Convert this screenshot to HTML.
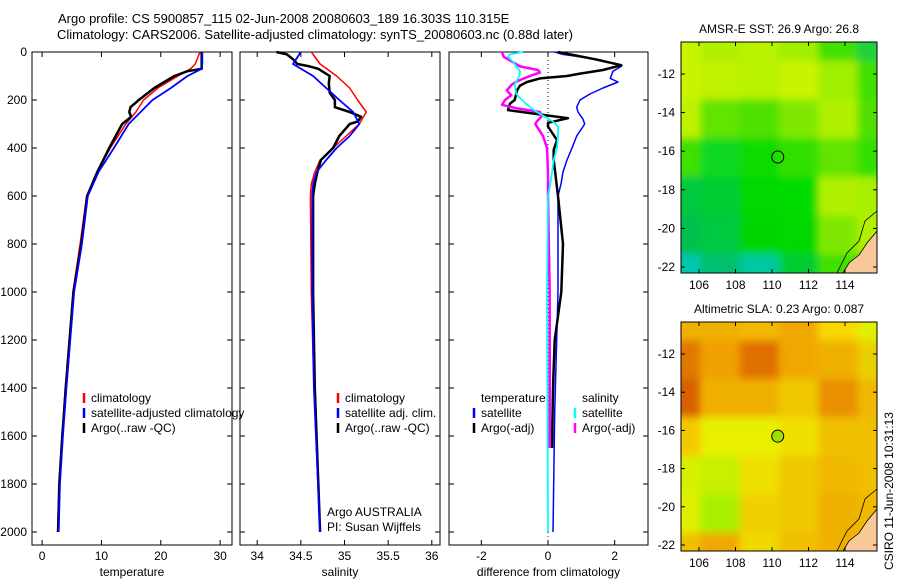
<!DOCTYPE html>
<html><head><meta charset="utf-8"><style>
body{margin:0;background:#fff}
svg{display:block;font-family:"Liberation Sans",sans-serif}
text{font-size:12px;fill:#000}
</style></head><body>
<svg id="fig" width="900" height="580" viewBox="0 0 900 580" xmlns="http://www.w3.org/2000/svg">
<text x="58" y="23" style="font-size:13px">Argo profile: CS 5900857_115 02-Jun-2008 20080603_189 16.303S 110.315E</text>
<text x="57" y="39" style="font-size:13px">Climatology: CARS2006. Satellite-adjusted climatology: synTS_20080603.nc (0.88d later)</text>
<g id="panels"></g>
<g id="maps"></g>
<text transform="translate(893,570) rotate(-90)" style="font-size:12px">CSIRO 11-Jun-2008 10:31:13</text>
</svg>
<script>
// ---- depth profile data ----
const tDepth = [0,50,70,100,150,200,250,300,400,500,600,800,1000,1400,1600,1800,2000];
const tClim  = [26.6,25.8,25.0,22.9,19.5,17.1,15.8,14.1,11.5,9.3,7.5,6.4,5.2,3.9,3.4,2.9,2.6];
const tSat   = [27.0,27.0,26.9,24.5,21.7,18.6,16.6,14.6,12.1,9.5,7.7,6.7,5.4,4.1,3.5,3.0,2.8];
const tArgoD = [0,70,80,100,150,200,230,250,270,300,400,500,600,800,1000,1400,1600,1800,2000];
const tArgo  = [26.9,26.9,24.5,22.3,18.9,16.3,14.9,14.7,15.0,13.5,11.3,9.3,7.6,6.6,5.3,4.0,3.4,2.9,2.7];
const sDepth = [0,50,100,150,200,250,300,350,400,450,500,550,600,1000,1400,2000];
const sClim  = [34.62,34.72,34.91,35.06,35.15,35.25,35.17,35.02,34.87,34.72,34.66,34.62,34.61,34.62,34.65,34.72];
const sSat   = [34.50,34.41,34.64,34.79,34.94,35.10,35.17,35.06,34.91,34.79,34.68,34.64,34.63,34.63,34.65,34.72];
const sArgoD = [0,10,30,50,60,70,100,130,170,200,230,250,270,290,300,350,400,450,500,550,600,1000,1400,2000];
const sArgo  = [34.22,34.34,34.41,34.46,34.60,34.70,34.83,34.82,34.83,34.89,34.89,35.06,35.19,35.15,35.06,34.94,34.87,34.73,34.69,34.66,34.64,34.64,34.66,34.72];
// ---- differences ----
const dtSatD = [0,10,30,50,60,80,110,125,150,175,200,230,250,280,300,350,400,450,500,550,600,1000,1500,2000];
const dtSat  = [0.2,0.45,1.47,2.07,2.2,1.95,1.87,2.1,1.65,1.26,0.96,0.86,0.9,1.05,1.1,0.86,0.72,0.57,0.45,0.39,0.3,0.3,0.2,0.15];
const dtArgoD= [0,30,55,75,90,100,110,125,140,160,200,215,242,276,295,311,367,408,450,505,600,800,1000,1200,1400,1650];
const dtArgo = [0.3,1.4,2.2,1.65,0.96,0.57,-0.24,-0.63,-0.84,-0.93,-1.0,-1.14,-1.2,0.6,0.0,0.0,0.27,0.17,0.17,0.22,0.3,0.45,0.4,0.2,0.15,0.12];
const dsSatD = [0,10,20,40,60,80,100,135,175,200,230,250,270,290,310,350,400,450,500,550,600,1000,2000];
const dsSat  = [-0.75,-1.14,-1.2,-1.05,-0.95,-0.84,-0.86,-1.0,-0.95,-0.78,-0.54,-0.34,-0.09,0.15,0.3,0.3,0.27,0.17,0.12,0.07,0.0,-0.03,0.0];
const dsArgoD= [0,20,40,60,75,85,100,120,135,160,180,200,220,235,250,270,290,300,350,400,500,600,1000,1650];
const dsArgo = [-1.38,-1.33,-1.08,-0.84,-0.3,-0.24,-0.54,-0.9,-1.08,-1.24,-1.1,-1.29,-1.38,-0.93,-0.24,-0.2,-0.34,-0.38,-0.15,-0.03,0.0,0.0,0.05,0.05];

const NS="http://www.w3.org/2000/svg";
const Y0=52, Y1=545, yScale=d=>Y0+d*0.24;
function el(tag,attrs,parent){const e=document.createElementNS(NS,tag);for(const k in attrs)e.setAttribute(k,attrs[k]);parent.appendChild(e);return e;}
const P=document.getElementById('panels');
function txt(x,y,s,parent,anchor,name){const t=el('text',{x:x,y:y,'text-anchor':anchor||'start'},parent);t.textContent=s;


return t;}
function panel(name,x0,x1,vmin,vmax,ticks,tickLabels,xlabel,ylabels){
  const g=el('g',{},P);
  
  
  const xs=v=>x0+(v-vmin)/(vmax-vmin)*(x1-x0);
  const fr=el('rect',{x:x0,y:Y0,width:x1-x0,height:Y1-Y0,fill:'none',stroke:'#000','stroke-width':1},g);
  
  
  ticks.forEach((v,i)=>{const x=xs(v);
    el('line',{x1:x,x2:x,y1:Y1,y2:Y1-5,stroke:'#000'},g);el('line',{x1:x,x2:x,y1:Y0,y2:Y0+5,stroke:'#000'},g);
    txt(x,560,tickLabels[i],g,'middle','x-tick-label');});
  for(let d=0;d<=2000;d+=200){const y=yScale(d);
    el('line',{x1:x0,x2:x0+5,y1:y,y2:y,stroke:'#000'},g);el('line',{x1:x1,x2:x1-5,y1:y,y2:y,stroke:'#000'},g);
    if(ylabels) txt(27,y+4,String(d),g,'end','y-tick-label');}
  txt((x0+x1)/2,576,xlabel,g,'middle','x-axis-title');
  return {g,xs};
}
function series(pn,depths,vals,color,w,name){
  let d='';depths.forEach((dp,i)=>{d+=(i?'L':'M')+pn.xs(vals[i]).toFixed(1)+','+yScale(dp).toFixed(1);});
  const p=el('path',{d:d,fill:'none',stroke:color,'stroke-width':w,'stroke-linejoin':'round'},pn.g);
  
  
}
function legend(g,x,y,color,label){
  el('line',{x1:x,x2:x,y1:y-9,y2:y+1,stroke:color,'stroke-width':2.5},g);
  txt(x+7,y,label,g,'start','legend-entry');
}
const p1=panel('temperature-panel',32,232,-1.7,32,[0,10,20,30],['0','10','20','30'],'temperature',true);
series(p1,tDepth,tClim,'#f00',1.5,'temp-climatology-line');
series(p1,tArgoD,tArgo,'#000',2.5,'temp-argo-line');
series(p1,tDepth,tSat,'#00f',1.8,'temp-satellite-line');
legend(p1.g,84,402,'#f00','climatology');
legend(p1.g,84,417,'#00f','satellite-adjusted climatology');
legend(p1.g,84,432,'#000','Argo(..raw -QC)');

const p2=panel('salinity-panel',240,440,33.803,36.094,[34,34.5,35,35.5,36],['34','34.5','35','35.5','36'],'salinity',false);
series(p2,sDepth,sClim,'#f00',1.5,'sal-climatology-line');
series(p2,sArgoD,sArgo,'#000',2.5,'sal-argo-line');
series(p2,sDepth,sSat,'#00f',1.8,'sal-satellite-line');
legend(p2.g,338,402,'#f00','climatology');
legend(p2.g,338,417,'#00f','satellite adj. clim.');
legend(p2.g,338,432,'#000','Argo(..raw -QC)');
txt(327,516,'Argo AUSTRALIA',p2.g,'start','argo-australia-note');
txt(327,531,'PI: Susan Wijffels',p2.g,'start','pi-note');

const p3=panel('difference-panel',449,648,-2.97,3,[-2,0,2],['-2','0','2'],'difference from climatology',false);
el('line',{x1:p3.xs(0),x2:p3.xs(0),y1:Y0,y2:yScale(2020),stroke:'#000','stroke-dasharray':'1,3'},p3.g);
series(p3,dtSatD,dtSat,'#00f',1.5,'diff-temp-satellite-line');
series(p3,dtArgoD,dtArgo,'#000',2.5,'diff-temp-argo-line');
series(p3,dsArgoD,dsArgo,'#f0f',2.5,'diff-sal-argo-line');
series(p3,dsSatD,dsSat,'#0ff',1.8,'diff-sal-satellite-line');
txt(481,402,'temperature',p3.g,'start','legend-temperature-heading');
txt(582,402,'salinity',p3.g,'start','legend-salinity-heading');
legend(p3.g,474,417,'#00f','satellite');
legend(p3.g,575,417,'#0ff','satellite');
legend(p3.g,474,432,'#000','Argo(-adj)');
legend(p3.g,575,432,'#f0f','Argo(-adj)');

// ---- maps ----
const sstGrid=[
['#c8f400','#b0f000','#b8f200','#a0ee00','#40e000','#20d040'],
['#c8f400','#c0f200','#b8f200','#c8f400','#a0ee00','#40e000'],
['#c0f200','#60e400','#50e000','#80e800','#b0f000','#50e000'],
['#40e000','#10d820','#10dc00','#30e000','#60e400','#30e000'],
['#00c840','#00cc30','#00d800','#00dc00','#b0f000','#a8f000'],
['#00c050','#00c840','#00d400','#00d800','#80e800','#b0f000'],
['#00c8b0','#00c070','#00c8a0','#00cc30','#40e000','#60e000']];
const slaGrid=[
['#f0b000','#f0b000','#f4b800','#f0a800','#f8d800','#e0f000'],
['#e07800','#f0a000','#e07000','#f0a800','#f0b000','#e8d000'],
['#d86000','#f0b000','#f0b000','#f0c800','#e89000','#f0b800'],
['#f4c800','#e8f000','#e8f000','#f0e000','#f0c000','#f0c000'],
['#d8f000','#c8f000','#f0e000','#f0c800','#f0b800','#f0c000'],
['#e0f000','#a8f000','#f0d000','#f0c800','#f0b000','#f0b800'],
['#f0c000','#f0a800','#f0d800','#f0c000','#f0b000','#f0c000']];
const lonTicks=[106,108,110,112,114];
const latTicks=[-12,-14,-16,-18,-20,-22];
const floatLon=110.315, floatLat=-16.303;
const M=document.getElementById('maps');
const defs=el('defs',{},M);
const f=el('filter',{id:'blur',x:'-10%',y:'-10%',width:'120%',height:'120%'},defs);
el('feGaussianBlur',{stdDeviation:4},f);
function map(name,top,bottom,grid,title,circleFill){
  const g=el('g',{},M);
  
  
  const x0=681,x1=877;
  const lx=v=>699+(v-106)*18.25;
  const ly=v=>(top+32)+(-12-v)*((bottom-6-(top+32))/10);
  const cp=el('clipPath',{id:'c'+name},defs);el('rect',{x:x0,y:top,width:x1-x0,height:bottom-top},cp);
  const cg=el('g',{'clip-path':'url(#c'+name+')'},g);
  const inner=el('g',{filter:'url(#blur)'},cg);
  const rows=grid.length,cols=grid[0].length,cw=(x1-x0+40)/cols,rh=(bottom-top+40)/rows;
  grid.forEach((r,i)=>r.forEach((c,j)=>{el('rect',{x:x0-20+j*cw,y:top-20+i*rh,width:cw+1,height:rh+1,fill:c},inner);}));
  const land=el('path',{d:`M${x1},${bottom-42} L${x1-10},${bottom-30} L${x1-18},${bottom-18} L${x1-28},${bottom-10} L${x1-34},${bottom} L${x1},${bottom}Z`,fill:'#f8c898',stroke:'#000','stroke-width':0.8},cg);
  
  
  el('path',{d:`M${x1},${bottom-62} L${x1-12},${bottom-52} L${x1-18},${bottom-32} L${x1-30},${bottom-20} L${x1-40},${bottom}`,fill:'none',stroke:'#000','stroke-width':0.8},cg);
  el('rect',{x:x0,y:top,width:x1-x0,height:bottom-top,fill:'none',stroke:'#000'},g);
  lonTicks.forEach(v=>{const x=lx(v);el('line',{x1:x,x2:x,y1:bottom,y2:bottom-4,stroke:'#000'},g);el('line',{x1:x,x2:x,y1:top,y2:top+4,stroke:'#000'},g);
    txt(x,bottom+16,String(v),g,'middle','map-lon-label');});
  latTicks.forEach(v=>{const y=ly(v);el('line',{x1:x0,x2:x0+4,y1:y,y2:y,stroke:'#000'},g);el('line',{x1:x1,x2:x1-4,y1:y,y2:y,stroke:'#000'},g);
    txt(x0-6,y+4,String(v),g,'end','map-lat-label');});
  const c=el('circle',{cx:lx(floatLon),cy:ly(floatLat),r:6,fill:circleFill,stroke:'#000','stroke-width':1},g);
  
  
  txt((x0+x1)/2,top-9,title,g,'middle','map-title');
}
map('sst-map',42,273,sstGrid,'AMSR-E SST: 26.9 Argo: 26.8','none');
map('sla-map',322,551,slaGrid,'Altimetric SLA: 0.23 Argo: 0.087','#a0e000');
</script>
</body></html>
